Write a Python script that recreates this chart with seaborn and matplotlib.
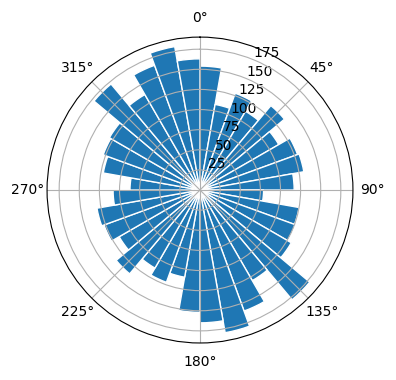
import numpy as np
import pandas as pd
import matplotlib
matplotlib.use("Agg")
import matplotlib.pyplot as plt
import seaborn as sns

# bin start angles (degrees, 10 degree bins) and counts
bin_start_deg = list(range(0, 360, 10))
counts = [154, 108, 128, 113, 137, 113, 129, 131, 117,
          79, 125, 126, 131, 178, 130, 160, 180, 165,
          152, 110, 122, 112, 136, 116, 127, 130, 108,
          87, 122, 128, 130, 172, 137, 165, 181, 163]

edges = list(np.deg2rad(bin_start_deg + [360]))
df = pd.DataFrame({"angle": np.deg2rad(np.array(bin_start_deg) + 5),
                   "count": counts})

fig = plt.figure(figsize=(3.96, 3.8), dpi=100)
ax = fig.add_axes([0.1187, 0.0974, 0.7727, 0.805], projection="polar")
ax.set_theta_zero_location("N")
ax.set_theta_direction(-1)

sns.histplot(data=df, x="angle", weights="count", bins=edges, ax=ax,
             color=sns.color_palette()[0], alpha=1,
             edgecolor="white", linewidth=1)

ax.set_xlabel("")
ax.set_ylabel("")
ax.set_rticks([25, 50, 75, 100, 125, 150, 175])
ax.set_thetagrids(np.arange(0, 360, 45))

fig.savefig("out.png", dpi=100)
